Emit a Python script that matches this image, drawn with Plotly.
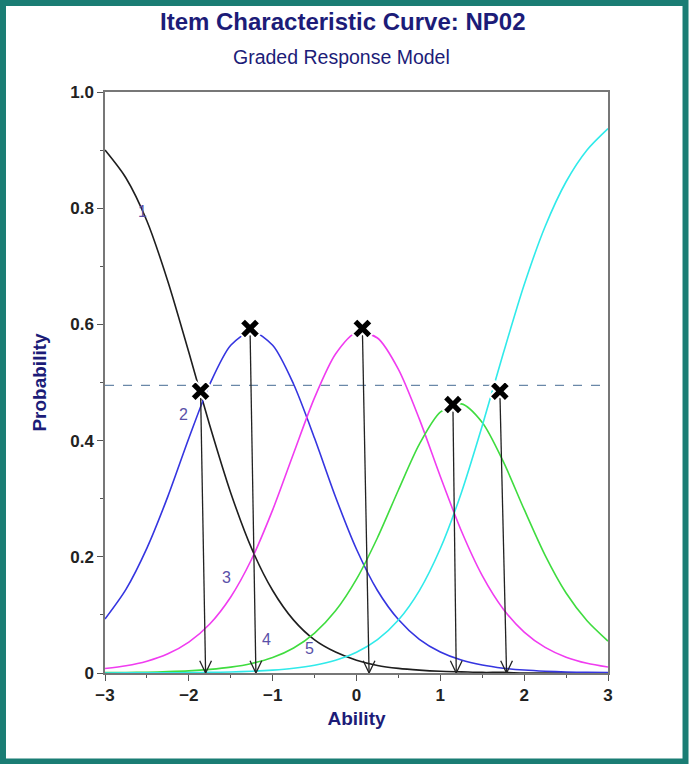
import plotly.graph_objects as go

# Ability grid (theta)
theta = [-3, -2.75, -2.5, -2.25, -2, -1.75, -1.5, -1.25, -1, -0.75, -0.5, -0.25, 0,
         0.25, 0.5, 0.75, 1, 1.25, 1.5, 1.75, 2, 2.25, 2.5, 2.75, 3]

# Category response probabilities
cat1 = [0.900, 0.852, 0.778, 0.674, 0.552, 0.426, 0.310, 0.214, 0.142, 0.091, 0.057, 0.036, 0.022,
        0.013, 0.008, 0.005, 0.003, 0.002, 0.001, 0.001, 0.000, 0.000, 0.000, 0.000, 0.000]
cat2 = [0.0930, 0.1440, 0.2150, 0.3040, 0.4040, 0.4970, 0.5640, 0.5880, 0.5640, 0.4970, 0.4040, 0.3030, 0.2130,
        0.1420, 0.0920, 0.0580, 0.0362, 0.0223, 0.0137, 0.0083, 0.0051, 0.0031, 0.0018, 0.0011, 0.0006]
cat3 = [0.0076, 0.0125, 0.0204, 0.0331, 0.0532, 0.0844, 0.1309, 0.1962, 0.2807, 0.3782, 0.4739, 0.5490, 0.5861,
        0.5766, 0.5227, 0.4370, 0.3383, 0.2448, 0.1676, 0.1102, 0.0704, 0.0441, 0.0273, 0.0168, 0.0103]
cat4 = [0.0006, 0.0008, 0.0014, 0.0023, 0.0037, 0.0062, 0.0101, 0.0165, 0.0267, 0.0431, 0.0688, 0.1070, 0.1615,
        0.2328, 0.3150, 0.3939, 0.4491, 0.4632, 0.4312, 0.3641, 0.2815, 0.2025, 0.1377, 0.0900, 0.0550]
cat5 = [0.0001, 0.0002, 0.0002, 0.0004, 0.0007, 0.0011, 0.0018, 0.0030, 0.0050, 0.0082, 0.0134, 0.0219, 0.0356,
        0.0573, 0.0911, 0.1419, 0.2142, 0.3100, 0.4256, 0.5498, 0.6682, 0.7685, 0.8455, 0.9002, 0.9370]

curve_names = ["1", "2", "3", "4", "5"]
curve_colors = ["#1e1e1e", "#3535e0", "#f03cf0", "#3fdc3f", "#30eaea"]

# Curve label positions
label_x = [-2.55, -2.06, -1.55, -1.07, -0.56]
label_y = [0.795, 0.445, 0.164, 0.057, 0.043]

# Reference line
ref_level = 0.495

# X markers and arrow tips
mark_x = [-1.86, -1.27, 0.07, 1.15, 1.71]
mark_y = [0.485, 0.593, 0.593, 0.462, 0.485]
tip_x = [-1.80, -1.20, 0.15, 1.19, 1.79]

x_ticks = [-3, -2, -1, 0, 1, 2, 3]
y_ticks = [0, 0.2, 0.4, 0.6, 0.8, 1.0]
y_ticktext = ["0", "0.2", "0.4", "0.6", "0.8", "1.0"]

FONT = "Liberation Sans, Arial, sans-serif"
NAVY = "#1c1c78"
TEAL = "#1a7d74"

fig = go.Figure()

# Dashed reference line
fig.add_trace(go.Scatter(x=[x_ticks[0], x_ticks[-1]], y=[ref_level, ref_level], mode="lines",
                         line=dict(color="#6a88a8", width=1.3, dash="dash"), hoverinfo="skip"))

for ys, c in zip([cat1, cat2, cat3, cat4, cat5], curve_colors):
    fig.add_trace(go.Scatter(x=theta, y=ys, mode="lines",
                             line=dict(color=c, width=1.6, shape="spline", smoothing=0.8),
                             hoverinfo="skip"))

# Arrow shafts and open V heads (built from marker/tip data)
ax_, ay_ = [], []
dx, dy = 0.07, 0.021
for mx, my, tx in zip(mark_x, mark_y, tip_x):
    ax_ += [mx, tx, None, tx - dx, tx, tx + dx, None]
    ay_ += [my, 0, None, dy, 0, dy, None]
fig.add_trace(go.Scatter(x=ax_, y=ay_, mode="lines", line=dict(color="#222222", width=1.3),
                         hoverinfo="skip"))

# X markers
fig.add_trace(go.Scatter(x=mark_x, y=mark_y, mode="markers",
                         marker=dict(symbol="x", size=18, color="#000000",
                                     line=dict(color="white", width=2)),
                         hoverinfo="skip"))

annotations = []
for t, lx, ly in zip(curve_names, label_x, label_y):
    annotations.append(dict(x=lx, y=ly, text=t, showarrow=False,
                            font=dict(family=FONT, size=16, color="#5a50a8")))

annotations.append(dict(xref="paper", yref="paper", x=0.473, y=1.122, text="<b>Item Characteristic Curve: NP02</b>",
                        showarrow=False, font=dict(family=FONT, size=24, color=NAVY),
                        xanchor="center", yanchor="middle"))
annotations.append(dict(xref="paper", yref="paper", x=0.47, y=1.060, text="Graded Response Model",
                        showarrow=False, font=dict(family=FONT, size=19.5, color=NAVY),
                        xanchor="center", yanchor="middle"))

fig.update_layout(
    width=690, height=764,
    margin=dict(l=105, r=82, t=92, b=91),
    paper_bgcolor="white", plot_bgcolor="white",
    showlegend=False,
    annotations=annotations,
    shapes=[dict(type="rect", xref="paper", yref="paper",
                 x0=-0.2028, x1=1.1541, y0=-0.1523, y1=1.1532,
                 line=dict(color=TEAL, width=6), layer="below")],
    font=dict(family=FONT),
)

fig.update_xaxes(range=[-3, 3], tickvals=x_ticks, ticks="outside", ticklen=6, tickwidth=1.2,
                 tickcolor="#555", showline=True, linecolor="#777", linewidth=1.5, mirror=True,
                 showgrid=False, zeroline=False,
                 minor=dict(dtick=0.5, ticks="outside", ticklen=3, tickcolor="#555"),
                 tickfont=dict(family=FONT, size=17, color="#222", weight="bold"),
                 title=dict(text="<b>Ability</b>", font=dict(family=FONT, size=19, color=NAVY), standoff=8))
fig.update_yaxes(range=[0, 1.0], tickvals=y_ticks, ticktext=y_ticktext, ticks="outside", ticklen=6,
                 tickwidth=1.2, tickcolor="#555", showline=True, linecolor="#777", linewidth=1.5,
                 mirror=True, showgrid=False, zeroline=False,
                 minor=dict(dtick=0.1, ticks="outside", ticklen=3, tickcolor="#555"),
                 tickfont=dict(family=FONT, size=17, color="#222", weight="bold"),
                 title=dict(text="<b>Probability</b>", font=dict(family=FONT, size=19, color=NAVY), standoff=19))

fig.write_html("out.html")
